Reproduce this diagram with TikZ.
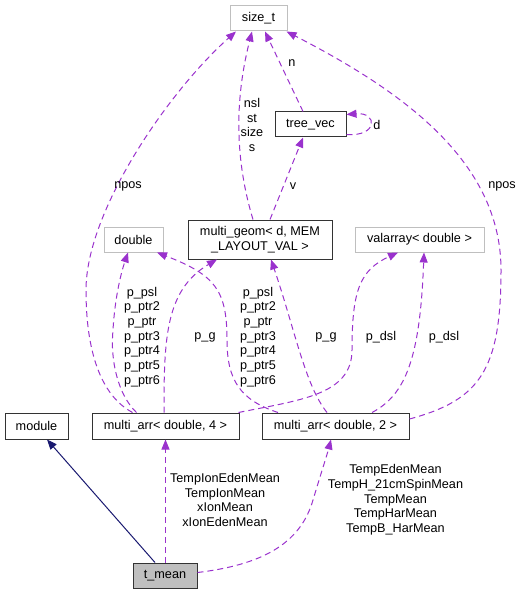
\documentclass[tikz,border=0pt]{standalone}
\usepackage{fontspec}
\setmainfont{Liberation Sans}
\usetikzlibrary{arrows.meta,calc}
\definecolor{usepurple}{HTML}{9A32CD}
\definecolor{inhnavy}{HTML}{191970}
\definecolor{boxgray}{HTML}{BFBFBF}

\begin{document}
\begin{tikzpicture}[x=0.75pt,y=0.75pt,yscale=-1,xscale=1,
  every node/.style={font=\fontsize{9.5}{11}\selectfont},
  clsbox/.style={draw=black!80, line width=0.75pt, minimum height=18.75pt, inner sep=0pt},
  extbox/.style={draw=boxgray, line width=0.75pt, minimum height=18.75pt, inner sep=0pt},
  usage/.style={draw=usepurple, line width=0.75pt, dash pattern=on 4.5pt off 3pt, -{Triangle[length=7.5pt,width=6pt]}},
  inherit/.style={draw=inhnavy, line width=0.75pt, -{Triangle[length=7.5pt,width=6pt]}},
  lbl/.style={align=center, inner sep=0pt}]
\useasboundingbox (0,0) rectangle (531,595);

%Shape: Rectangle [size_t]
\node[extbox, minimum width=42.75pt] (sizet) at (258.5,18.5) {size\_t};
%Shape: Rectangle [tree_vec]
\node[clsbox, minimum width=53.25pt] (treevec) at (310.5,124.5) {tree\_vec};
%Shape: Rectangle [multi_geom]
\node[clsbox, minimum width=108pt, minimum height=29.25pt, align=center] (geom) at (260,239.5) {multi\_geom< d, MEM\\\_LAYOUT\_VAL >};
%Shape: Rectangle [double]
\node[extbox, minimum width=44.25pt] (dbl) at (133.5,239.5) {double};
%Shape: Rectangle [valarray]
\node[extbox, minimum width=96.75pt] (valarr) at (419.5,239.5) {valarray< double >};
%Shape: Rectangle [module]
\node[clsbox, minimum width=47.25pt, minimum height=19.5pt] (module) at (36.5,426) {module};
%Shape: Rectangle [multi_arr 4]
\node[clsbox, minimum width=110.25pt, minimum height=19.5pt] (arrfour) at (165.5,426) {multi\_arr< double, 4 >};
%Shape: Rectangle [multi_arr 2]
\node[clsbox, minimum width=110.25pt, minimum height=19.5pt] (arrtwo) at (335.5,426) {multi\_arr< double, 2 >};
%Shape: Rectangle [t_mean]
\node[clsbox, fill=boxgray, minimum width=48pt] (tmean) at (165,575.5) {t\_mean};

%Curve Lines [multi_arr 4 -> size_t]
\draw[usage] ($(arrfour.north)+(-33,0)$) .. controls (100,395) and (86,350) .. (86,290) .. controls (86,210) and (170,90) .. ($(sizet.south)+(-22.5,0)$);
%Curve Lines [multi_arr 4 -> double]
\draw[usage] ($(arrfour.north)+(-29,0)$) .. controls (118,395) and (110,360) .. (113,330) .. controls (115,295) and (122,270) .. ($(dbl.south)+(-5.5,0)$);
%Curve Lines [multi_arr 4 -> multi_geom]
\draw[usage] ($(arrfour.north)+(-1.5,0)$) .. controls (164,340) and (165,290) .. ($(geom.south)+(-43,0)$);
%Curve Lines [multi_arr 4 -> valarray]
\draw[usage] ($(arrfour.north east)+(-1,0)$) .. controls (300,400) and (352,395) .. (352,350) .. controls (352,290) and (360,270) .. ($(valarr.south)+(-21.5,0)$);
%Curve Lines [multi_arr 2 -> double]
\draw[usage] ($(arrtwo.north)+(-57.5,0)$) .. controls (240,400) and (227,380) .. (227,340) .. controls (227,290) and (215,275) .. ($(dbl.south)+(23.5,0)$);
%Curve Lines [multi_arr 2 -> multi_geom]
\draw[usage] ($(arrtwo.north)+(-8.5,0)$) .. controls (305,385) and (295,330) .. ($(geom.south)+(11,0)$);
%Curve Lines [multi_arr 2 -> valarray]
\draw[usage] ($(arrtwo.north)+(36.5,0)$) .. controls (405,395) and (420,360) .. ($(valarr.south)+(4.5,0)$);
%Curve Lines [multi_arr 2 -> size_t]
\draw[usage] ($(arrtwo.east)+(0,-7)$) .. controls (480,400) and (501,370) .. (501,270) .. controls (501,160) and (400,90) .. ($(sizet.south east)+(-1,0)$);
%Curve Lines [multi_geom -> size_t]
\draw[usage] ($(geom.north)+(-7,0)$) .. controls (238,170) and (232,110) .. ($(sizet.south)+(-6.5,0)$);
%Straight Lines [multi_geom -> tree_vec]
\draw[usage] ($(geom.north)+(10,0)$) -- ($(treevec.south)+(-7.5,0)$);
%Straight Lines [tree_vec -> size_t]
\draw[usage] ($(treevec.north)+(-7.5,0)$) -- ($(sizet.south)+(6.5,0)$);
%Curve Lines [tree_vec -> tree_vec]
\draw[usage] ($(treevec.east)+(0,10)$) .. controls (378,137) and (378,112) .. ($(treevec.east)+(0,-10)$);
%Straight Lines [t_mean -> module]
\draw[inherit] ($(tmean.north)+(-10,0)$) -- ($(module.south)+(10.5,0)$);
%Straight Lines [t_mean -> multi_arr 4]
\draw[usage] ($(tmean.north)+(0.5,0)$) -- (arrfour.south);
%Curve Lines [t_mean -> multi_arr 2]
\draw[usage] ($(tmean.east)+(0,-3)$) .. controls (260,565) and (300,545) .. (313,500) .. controls (322,470) and (327,455) .. ($(arrtwo.south)+(-4.5,0)$);

% Text Node
\node[lbl] (lnposl) at (128,186) {npos};
\node[lbl] (lnposr) at (502,186) {npos};
\node[lbl] (lpfour) at (142,337) {p\_psl\\p\_ptr2\\p\_ptr\\p\_ptr3\\p\_ptr4\\p\_ptr5\\p\_ptr6};
\node[lbl] (lptwo) at (258,337) {p\_psl\\p\_ptr2\\p\_ptr\\p\_ptr3\\p\_ptr4\\p\_ptr5\\p\_ptr6};
\node[lbl] (lgfour) at (205,337) {p\_g};
\node[lbl] (lgtwo) at (326,337) {p\_g};
\node[lbl] (ldslfour) at (381,337) {p\_dsl};
\node[lbl] (ldsltwo) at (444,337) {p\_dsl};
\node[lbl] (lnsl) at (252,125) {nsl\\st\\size\\s};
\node[lbl] (lv) at (293,186) {v};
\node[lbl] (ln) at (292,63) {n};
\node[lbl] (ld) at (377,125) {d};
\node[lbl] (ltempfour) at (225,500) {TempIonEdenMean\\TempIonMean\\xIonMean\\xIonEdenMean};
\node[lbl] (ltemptwo) at (395.5,500) {TempEdenMean\\TempH\_21cmSpinMean\\TempMean\\TempHarMean\\TempB\_HarMean};

\end{tikzpicture}
\end{document}
